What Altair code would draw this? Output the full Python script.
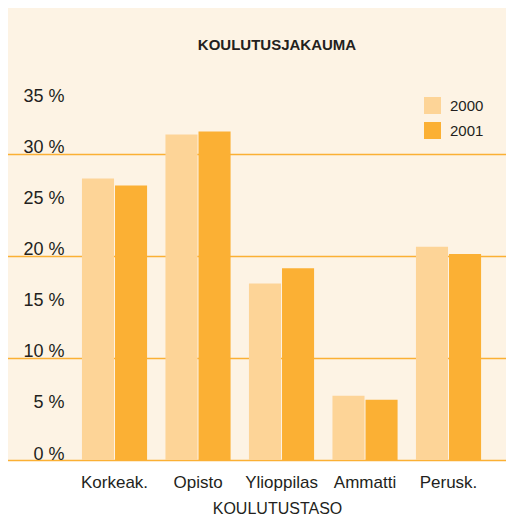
import altair as alt
import pandas as pd

categories = ["Korkeak.", "Opisto", "Ylioppilas", "Ammatti", "Perusk."]
years = ["2000", "2001"]
values_2000 = [27.6, 31.9, 17.3, 6.3, 20.9]
values_2001 = [26.9, 32.2, 18.8, 5.9, 20.2]
y_ticks = [0, 5, 10, 15, 20, 25, 30, 35]

rows = []
for c, v0, v1 in zip(categories, values_2000, values_2001):
    rows.append({"taso": c, "vuosi": "2000", "osuus": v0})
    rows.append({"taso": c, "vuosi": "2001", "osuus": v1})
df = pd.DataFrame(rows)

FONT = "Liberation Sans"
TEXT = "#231f20"
ORANGE = "#fbb034"
LIGHT = "#fdd497"

chart = alt.Chart(df).mark_bar().encode(
    x=alt.X(
        "taso:N",
        sort=categories,
        scale=alt.Scale(paddingInner=0.22, paddingOuter=0.604, align=0.753),
        axis=alt.Axis(
            title="KOULUTUSTASO",
            titleFont=FONT,
            titleFontSize=16,
            titleFontWeight="normal",
            titleColor=TEXT,
            titleX=271,
            titleY=53,
            titleBaseline="alphabetic",
            labelAngle=0,
            labelFont=FONT,
            labelFontSize=17,
            labelColor=TEXT,
            labelBaseline="alphabetic",
            labelPadding=27,
            ticks=False,
            tickSize=0,
            domain=False,
            grid=False,
        ),
    ),
    xOffset=alt.XOffset("vuosi:N", scale=alt.Scale(paddingInner=0.03)),
    y=alt.Y(
        "osuus:Q",
        scale=alt.Scale(domain=[0, 44.8], nice=False),
        axis=alt.Axis(
            title=None,
            values=y_ticks,
            labelExpr="datum.value + ' %'",
            labelFont=FONT,
            labelFontSize=18,
            labelColor=TEXT,
            labelAlign="right",
            labelBaseline="alphabetic",
            labelPadding=2,
            labelOffset=-1,
            offset=-60,
            ticks=False,
            tickSize=0,
            domain=False,
            grid=True,
            gridColor=ORANGE,
            gridWidth=1.3,
            gridOpacity={"condition": {"test": "datum.value % 10 === 0", "value": 1}, "value": 0},
        ),
    ),
    color=alt.Color(
        "vuosi:N",
        scale=alt.Scale(domain=years, range=[LIGHT, ORANGE]),
        legend=alt.Legend(
            title=None,
            orient="none",
            legendX=418,
            legendY=94,
            symbolType="square",
            symbolSize=289,
            symbolStrokeWidth=0,
            symbolOpacity=1,
            labelFont=FONT,
            labelFontSize=15,
            labelColor=TEXT,
            labelOffset=9,
            rowPadding=8,
        ),
    ),
).properties(
    width=500,
    height=457,
    padding={"left": -2, "top": -5, "right": 0, "bottom": 0},
    title=alt.TitleParams(
        "KOULUTUSJAKAUMA",
        font=FONT,
        fontSize=15,
        fontWeight="bold",
        color=TEXT,
        anchor="middle",
        baseline="alphabetic",
        offset=-62,
        dx=21,
    ),
).configure_view(
    fill="#fdf3e4",
    stroke=None,
)

chart.save("out.html", embed_options={"renderer": "svg", "actions": False})
